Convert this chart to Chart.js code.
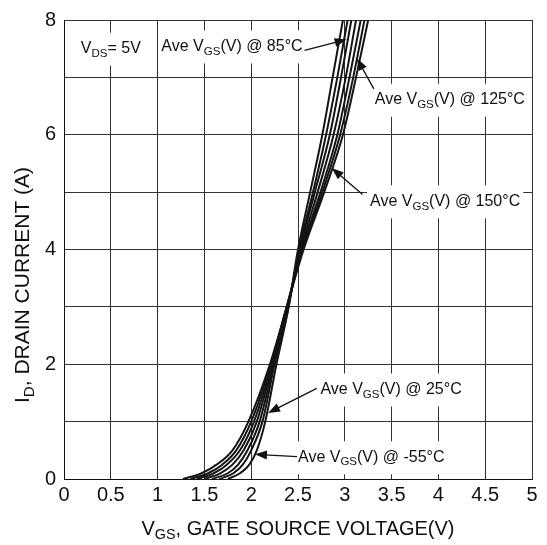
<!DOCTYPE html>
<html>
<head>
<meta charset="utf-8">
<script src="https://cdn.jsdelivr.net/npm/chart.js@4.4.0/dist/chart.umd.min.js"></script>
<style>
  html, body { margin: 0; padding: 0; background: #fff; }
  #wrap { width: 547px; height: 545px; }
</style>
</head>
<body>
<div id="wrap"><canvas id="idChart"></canvas></div>
<script>
// drain current steps (A) shared by every curve
const drainCurrent = [0, 0.1, 0.25, 0.5, 1, 2, 3, 4, 5, 6, 7, 8];

// gate voltage (V) at those currents
const vgsMinus55 = [1.75, 1.88, 1.98, 2.06, 2.15, 2.27, 2.40, 2.50, 2.63, 2.76, 2.87, 2.98];
const vgs25      = [1.66, 1.81, 1.91, 2.00, 2.12, 2.25, 2.40, 2.51, 2.66, 2.80, 2.92, 3.03];
const vgsExtraA  = [1.58, 1.75, 1.86, 1.96, 2.09, 2.24, 2.39, 2.52, 2.68, 2.84, 2.96, 3.07];
const vgs85      = [1.50, 1.67, 1.80, 1.92, 2.06, 2.23, 2.39, 2.53, 2.71, 2.88, 3.01, 3.12];
const vgsExtraB  = [1.42, 1.60, 1.74, 1.88, 2.03, 2.22, 2.38, 2.54, 2.74, 2.92, 3.05, 3.17];
const vgs125     = [1.35, 1.54, 1.69, 1.84, 2.00, 2.21, 2.38, 2.55, 2.76, 2.95, 3.09, 3.21];
const vgs150     = [1.27, 1.47, 1.63, 1.80, 1.97, 2.20, 2.38, 2.56, 2.78, 2.98, 3.12, 3.25];

const curves = [vgsMinus55, vgs25, vgsExtraA, vgs85, vgsExtraB, vgs125, vgs150];

const xMax = 5, xStep = 0.5;
const yMax = 8, yStep = 1;

// callouts: text, label anchor (V, A), arrow tail and head (V, A)
const calloutTemp = ['85°C', '125°C', '150°C', '25°C', '-55°C'];
const calloutAt   = [[1.04, 7.54], [3.32, 6.61], [3.27, 4.84], [2.74, 1.56], [2.50, 0.38]];
const arrowFrom   = [[2.57, 7.47], [3.31, 6.80], [3.19, 4.96], [2.70, 1.58], [2.49, 0.39]];
const arrowTo     = [[3.02, 7.66], [3.13, 7.33], [2.86, 5.42], [2.18, 1.15], [2.04, 0.43]];
const conditionAt = [0.18, 7.50];

const FONT = '"Liberation Sans", Arial, Helvetica, sans-serif';

function richWidth(ctx, parts, size) {
  let w = 0;
  parts.forEach(p => {
    ctx.font = (p[1] ? size * 0.72 : size) + 'px ' + FONT;
    w += ctx.measureText(p[0]).width;
  });
  return w;
}

function drawRich(ctx, parts, x, y, size) {
  ctx.textBaseline = 'middle';
  ctx.textAlign = 'left';
  parts.forEach(p => {
    const s = p[1] ? size * 0.72 : size;
    ctx.font = s + 'px ' + FONT;
    ctx.fillText(p[0], x, p[1] ? y + size * 0.32 : y);
    x += ctx.measureText(p[0]).width;
  });
}

function drawArrow(ctx, x1, y1, x2, y2) {
  const a = Math.atan2(y2 - y1, x2 - x1);
  const len = 12, half = 4.5;
  ctx.beginPath();
  ctx.moveTo(x1, y1);
  ctx.lineTo(x2 - Math.cos(a) * len * 0.8, y2 - Math.sin(a) * len * 0.8);
  ctx.stroke();
  ctx.beginPath();
  ctx.moveTo(x2, y2);
  ctx.lineTo(x2 - Math.cos(a) * len + Math.sin(a) * half, y2 - Math.sin(a) * len - Math.cos(a) * half);
  ctx.lineTo(x2 - Math.cos(a) * len - Math.sin(a) * half, y2 - Math.sin(a) * len + Math.cos(a) * half);
  ctx.closePath();
  ctx.fill();
}

const calloutPlugin = {
  id: 'callouts',
  afterDatasetsDraw(chart) {
    const ctx = chart.ctx;
    const xs = chart.scales.x, ys = chart.scales.y;
    const area = chart.chartArea;
    const size = 16;
    const labels = calloutTemp.map(t => [['Ave V', 0], ['GS', 1], ['(V) @ ' + t, 0]]);
    const anchors = calloutAt.slice();
    labels.push([['V', 0], ['DS', 1], ['= 5V', 0]]);
    anchors.push(conditionAt);

    ctx.save();
    ctx.beginPath();
    ctx.rect(area.left + 1, area.top + 1, area.width - 2, area.height - 2);
    ctx.clip();
    labels.forEach((parts, i) => {
      const x = xs.getPixelForValue(anchors[i][0]);
      const y = ys.getPixelForValue(anchors[i][1]);
      const w = richWidth(ctx, parts, size);
      ctx.fillStyle = '#fff';
      ctx.fillRect(x - 3, y - 16, w + 6, 33);
      ctx.fillStyle = '#111';
      drawRich(ctx, parts, x, y, size);
    });
    ctx.strokeStyle = '#111';
    ctx.fillStyle = '#111';
    ctx.lineWidth = 1.3;
    arrowFrom.forEach((f, i) => {
      drawArrow(ctx,
        xs.getPixelForValue(f[0]), ys.getPixelForValue(f[1]),
        xs.getPixelForValue(arrowTo[i][0]), ys.getPixelForValue(arrowTo[i][1]));
    });
    ctx.restore();
  },
  afterDraw(chart) {
    const ctx = chart.ctx;
    const area = chart.chartArea;
    ctx.save();
    ctx.fillStyle = '#111';
    const xt = [['V', 0], ['GS', 1], [', GATE SOURCE VOLTAGE(V)', 0]];
    const wx = richWidth(ctx, xt, 20);
    drawRich(ctx, xt, (area.left + area.right) / 2 - wx / 2, 529, 20);

    const yt = [['I', 0], ['D', 1], [', DRAIN CURRENT (A)', 0]];
    const wy = richWidth(ctx, yt, 21);
    ctx.translate(23, 285);
    ctx.rotate(-Math.PI / 2);
    drawRich(ctx, yt, -wy / 2, 0, 21);
    ctx.restore();
  }
};

const datasets = curves.map(c => ({
  data: c.map((v, i) => ({ x: v, y: drainCurrent[i] })),
  borderColor: '#141414',
  borderWidth: 2,
  pointRadius: 0,
  fill: false,
  cubicInterpolationMode: 'monotone'
}));

new Chart(document.getElementById('idChart'), {
  type: 'line',
  data: { datasets },
  plugins: [calloutPlugin],
  options: {
    responsive: true,
    maintainAspectRatio: false,
    animation: false,
    layout: { padding: { top: 13, right: 15, left: 0, bottom: 0 } },
    plugins: { legend: { display: false }, tooltip: { enabled: false } },
    scales: {
      x: {
        type: 'linear',
        min: 0,
        max: xMax,
        ticks: {
          stepSize: xStep,
          padding: 4,
          color: '#111',
          font: { family: FONT, size: 20 },
          callback: v => String(v)
        },
        grid: { color: '#333', lineWidth: 1, drawTicks: false },
        border: { color: '#111', width: 1 },
        afterFit: s => { s.height = 66; }
      },
      y: {
        min: 0,
        max: yMax,
        ticks: {
          stepSize: yStep,
          padding: 8,
          color: '#111',
          font: { family: FONT, size: 20 },
          callback: v => (v % 2 === 0 ? String(v) : '')
        },
        grid: { color: '#333', lineWidth: 1, drawTicks: false },
        border: { color: '#111', width: 1 },
        afterFit: s => { s.width = 64; }
      }
    }
  }
});
</script>
</body>
</html>
